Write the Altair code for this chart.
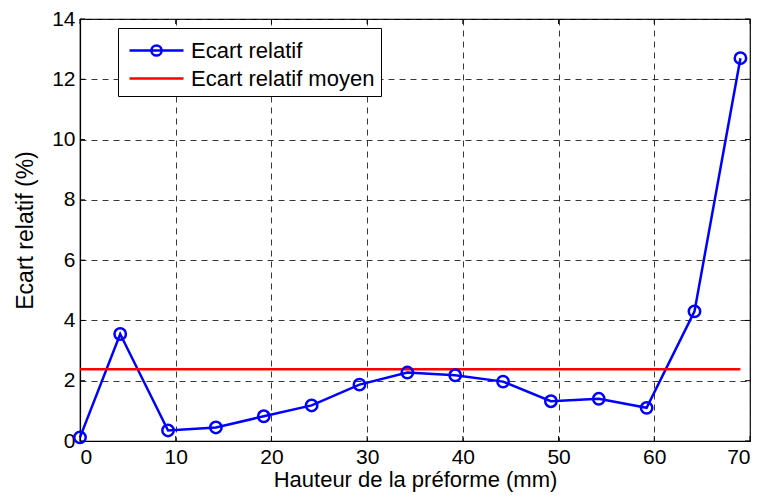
import altair as alt
import pandas as pd

hauteur = [0, 4.2, 9.2, 14.2, 19.2, 24.2, 29.2, 34.2, 39.2, 44.2, 49.2, 54.2, 59.2, 64.2, 69.0]
ecart = [0.12, 3.55, 0.35, 0.45, 0.82, 1.18, 1.87, 2.27, 2.18, 1.97, 1.32, 1.40, 1.10, 4.30, 12.70]
moyen_x = [0, 69.0]
moyen_y = [2.38, 2.38]
series = ["Ecart relatif", "Ecart relatif moyen"]
x_ticks = [0, 10, 20, 30, 40, 50, 60, 70]
y_ticks = [0, 2, 4, 6, 8, 10, 12, 14]

df = pd.DataFrame({"h": hauteur, "e": ecart, "serie": series[0]})
dm = pd.DataFrame({"h": moyen_x, "e": moyen_y, "serie": series[1]})
dxt = pd.DataFrame({"h": x_ticks})
dyt = pd.DataFrame({"e": y_ticks})

FONT = "Liberation Sans"
W, H = 670, 422

color_scale = alt.Scale(domain=series, range=["#0000ff", "#ff0000"])
shape_scale = alt.Scale(
    domain=series,
    range=[
        "M-1.8,0H1.8M0.34,0A0.34,0.34 0 1,1 -0.34,0A0.34,0.34 0 1,1 0.34,0",
        "M-1.8,0H1.8",
    ],
)

xscale = alt.Scale(domain=[0, 70], nice=False)
yscale = alt.Scale(domain=[0, 14], nice=False)
xenc = alt.X("h:Q", scale=xscale,
             axis=alt.Axis(values=x_ticks, title="Hauteur de la préforme (mm)"))
yenc = alt.Y("e:Q", scale=yscale,
             axis=alt.Axis(values=y_ticks, title="Ecart relatif (%)"))

legend = alt.Legend(orient="none", legendX=38, legendY=9, title=None)

leg = alt.Chart(pd.concat([df.head(1), dm.head(1)])).mark_point(opacity=0).encode(
    x=xenc, y=yenc,
    color=alt.Color("serie:N", scale=color_scale, legend=legend),
    shape=alt.Shape("serie:N", scale=shape_scale, legend=legend),
)
line = alt.Chart(df).mark_line(strokeWidth=2.5).encode(
    x="h:Q", y="e:Q", color=alt.Color("serie:N", scale=color_scale),
)
mean_line = alt.Chart(dm).mark_line(strokeWidth=2.5).encode(
    x="h:Q", y="e:Q", color=alt.Color("serie:N", scale=color_scale),
)
points = alt.Chart(df).mark_point(filled=False, size=130, strokeWidth=2.5, opacity=1).encode(
    x="h:Q", y="e:Q", color=alt.Color("serie:N", scale=color_scale),
)

# inward ticks on the four sides (MATLAB style box)
tk = dict(color="black", strokeWidth=1)
tx_top = alt.Chart(dxt).mark_rule(**tk).encode(x="h:Q", y=alt.value(0), y2=alt.value(5))
tx_bot = alt.Chart(dxt).mark_rule(**tk).encode(x="h:Q", y=alt.value(H), y2=alt.value(H - 5))
ty_left = alt.Chart(dyt).mark_rule(**tk).encode(y="e:Q", x=alt.value(0), x2=alt.value(5))
ty_right = alt.Chart(dyt).mark_rule(**tk).encode(y="e:Q", x=alt.value(W), x2=alt.value(W - 5))

chart = alt.layer(leg, tx_top, tx_bot, ty_left, ty_right, line, mean_line, points).properties(
    width=W,
    height=H,
    autosize=alt.AutoSizeParams(type="none"),
    padding={"left": 72, "top": 11, "right": 6, "bottom": 56},
).configure_view(
    stroke="black", strokeWidth=1.2
).configure_axis(
    labelFont=FONT, titleFont=FONT,
    labelFontSize=21, titleFontSize=23,
    labelColor="black", titleColor="black",
    titleFontWeight="normal",
    grid=True, gridColor="#222222", gridDash=[6, 5], gridOpacity=0.9, gridWidth=1,
    ticks=False, domain=True, domainColor="black", domainWidth=1.2,
).configure_axisX(
    titlePadding=2, labelPadding=5, titleFontSize=22,
).configure_axisY(
    titlePadding=14, labelPadding=5,
).configure_legend(
    labelFont=FONT, labelFontSize=22, labelColor="black", labelLimit=400,
    symbolSize=900, symbolStrokeWidth=2.5, symbolFillColor="transparent",
    symbolOpacity=1, symbolOffset=16,
    strokeColor="black", fillColor="white", padding=6,
    rowPadding=-2, labelOffset=18,
)

chart.save("out.html", embed_options={"renderer": "svg", "actions": False})
